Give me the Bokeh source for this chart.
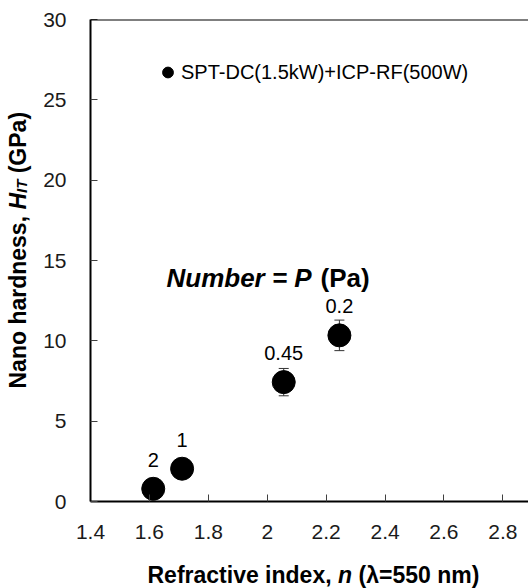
import math
from bokeh.plotting import figure
from bokeh.layouts import row, column
from bokeh.core.properties import value
from bokeh.models import (Range1d, FixedTicker, Span, Whisker, ColumnDataSource,
                          LabelSet, Label, TeeHead)
from bokeh.embed import file_html
from bokeh.resources import INLINE

# ---- data ----
refractive_index = [1.613, 1.711, 2.056, 2.245]
hardness = [0.79, 2.04, 7.43, 10.34]
hardness_err = [0.0, 0.0, 0.85, 0.95]
pressure_labels = ["2", "1", "0.45", "0.2"]
series_name = "SPT-DC(1.5kW)+ICP-RF(500W)"
x_ticks = [1.4, 1.6, 1.8, 2.0, 2.2, 2.4, 2.6, 2.8]
x_tick_labels = ["1.4", "1.6", "1.8", "2", "2.2", "2.4", "2.6", "2.8"]
y_ticks = [0, 5, 10, 15, 20, 25, 30]

FONT = "Liberation Sans"

src = ColumnDataSource(dict(
    x=refractive_index,
    y=hardness,
    upper=[h + e for h, e in zip(hardness, hardness_err)],
    lower=[h - e for h, e in zip(hardness, hardness_err)],
    label=pressure_labels,
))

YT_W = 35          # width of the y-title strip
LEFT = 90 - YT_W   # left border of main plot so the frame starts at x=90

# ---------------- main plot ----------------
p = figure(width=528 - YT_W, height=548, output_backend="svg", toolbar_location=None,
           x_range=Range1d(1.4, 2.887), y_range=Range1d(0, 30),
           min_border_left=LEFT, min_border_right=0, min_border_top=19,
           min_border_bottom=47)
p.grid.visible = False
p.outline_line_color = None
p.background_fill_color = "white"
p.border_fill_color = "white"

for ax in (p.xaxis[0], p.yaxis[0]):
    ax.axis_line_width = 2
    ax.axis_line_color = "black"
    ax.major_tick_in = 7
    ax.major_tick_out = 0
    ax.minor_tick_line_color = None
    ax.major_tick_line_color = "#404040"
    ax.major_tick_line_width = 1
    ax.major_label_text_font = FONT
    ax.major_label_text_font_size = "21px"
    ax.major_label_text_color = "#1a1a1a"

p.xaxis.ticker = FixedTicker(ticks=x_ticks)
p.xaxis.major_label_overrides = dict(zip(x_ticks, x_tick_labels))
p.xaxis.major_label_standoff = 23
p.yaxis.ticker = FixedTicker(ticks=y_ticks)
p.yaxis.major_label_standoff = 24

p.add_layout(Span(location=30, dimension="width", line_color="black", line_width=2))

w = Whisker(base="x", upper="upper", lower="lower", source=src,
            line_color="#333333", line_width=1,
            upper_head=TeeHead(size=10, line_color="#333333", line_width=1),
            lower_head=TeeHead(size=10, line_color="#333333", line_width=1))
p.add_layout(w)

p.scatter("x", "y", source=src, size=23, fill_color="black", line_color="black",
          legend_label=series_name)

p.add_layout(LabelSet(x="x", y="y", text="label", source=src, y_offset=29,
                      text_align="center", text_baseline="middle",
                      text_font=value(FONT), text_font_size=value("20px"),
                      text_color="black"))

lg = p.legend[0]
lg.location = (64, 414)
lg.glyph_width = 27
lg.glyph_height = 30
lg.label_standoff = 0
lg.padding = 0
lg.margin = 0
lg.spacing = 0
lg.border_line_color = None
lg.background_fill_alpha = 0
lg.label_text_font = FONT
lg.label_text_font_size = "20px"
lg.label_text_color = "black"
lg.label_height = 30


def lab(fig, x, y, text, style="bold", size="23px", angle=0.0):
    fig.add_layout(Label(x=x, y=y, x_units="screen", y_units="screen", text=text,
                         text_font=FONT, text_font_style=style, text_font_size=size,
                         text_color="black", angle=angle,
                         text_baseline="alphabetic", text_align="left"))


# "Number = P (Pa)"  (frame coords: x = canvas_x - 90, y = 501 - canvas_y)
lab(p, 76, 224, "Number = P", style="bold italic", size="26px")
lab(p, 230, 224, "(Pa)", style="bold", size="26px")

# ---------------- x title strip (frame aligned with main frame) ----------------
xt = figure(width=528 - YT_W, height=40, output_backend="svg", toolbar_location=None,
            x_axis_location=None, y_axis_location=None,
            min_border=0, min_border_left=0, min_border_right=0,
            min_border_top=0, min_border_bottom=0)
xt.outline_line_color = None
xt.grid.visible = False
xs = 57
lab(xt, xs, 14, "Refractive index,", "bold")
lab(xt, xs + 190.5, 14, "n", "bold italic")
lab(xt, xs + 190.5 + 14.1 + 6.4, 14, "(λ=550 nm)", "bold")

# ---------------- y title strip ----------------
yt = figure(width=YT_W, height=588, output_backend="svg", toolbar_location=None,
            x_axis_location=None, y_axis_location=None,
            min_border=0, min_border_left=0, min_border_right=0,
            min_border_top=0, min_border_bottom=0)
yt.outline_line_color = None
yt.grid.visible = False
A = math.pi / 2
ys = 588 - 388
lab(yt, 17, ys, "Nano hardness,", "bold", angle=A)
lab(yt, 17, ys + 178.9, "H", "bold italic", angle=A)
lab(yt, 21, ys + 178.9 + 16.6, "IT", "bold italic", size="15px", angle=A)
lab(yt, 17, ys + 178.9 + 16.6 + 13.3 + 6.4, "(GPa)", "bold", angle=A)

layout = row(yt, column(p, xt))
open("out.html", "w").write(file_html(layout, INLINE))
